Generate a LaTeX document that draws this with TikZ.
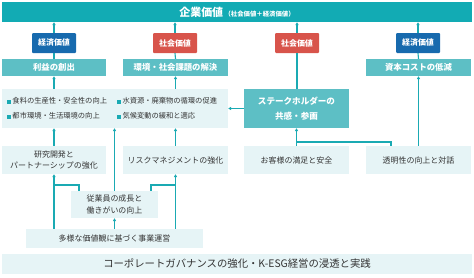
\documentclass[tikz,border=0pt]{standalone}
\usepackage{fontspec}
\setmainfont{Noto Sans CJK JP}
\usetikzlibrary{arrows.meta}
\definecolor{bannerteal}{HTML}{12ABB4}
\definecolor{midteal}{HTML}{5DBFC5}
\definecolor{lightbg}{HTML}{E6F4F6}
\definecolor{badgeblue}{HTML}{176AAE}
\definecolor{badgered}{HTML}{D8544B}
\definecolor{linecol}{HTML}{1AAAB3}
\definecolor{txt}{HTML}{333333}
\tikzset{
  base/.style={inner sep=0pt, align=center, font=\fontsize{8}{11.5}\selectfont},
  badge/.style={base, minimum width=44bp, minimum height=20bp, text=white, font=\fontsize{8}{9}\selectfont\bfseries, rounded corners=1bp},
  midbox/.style={base, fill=midteal, text=white, font=\fontsize{8.4}{10}\selectfont\bfseries},
  lightbox/.style={base, fill=lightbg, text=txt},
  conn/.style={draw=linecol, line width=1.1bp},
  arr/.style={conn, -{Triangle[length=3bp,width=3.2bp]}},
  bul/.style={inner sep=0pt, anchor=west, text=txt, font=\fontsize{7.3}{9}\selectfont}
}
\newcommand{\sq}{{\color{linecol}\rule{3.8bp}{3.8bp}}\hspace{1.5bp}}
\begin{document}
\begin{tikzpicture}[x=1bp,y=-1bp]
\useasboundingbox (0,0) rectangle (474,277);
% top banner
\node[base, fill=bannerteal, text=white, minimum width=470bp, minimum height=20bp] (top) at (237,12)
  {{\fontsize{11}{12}\selectfont\bfseries 企業価値}\,{\fontsize{6.4}{7}\selectfont\bfseries （社会価値＋経済価値）}};
% badges
\node[badge, fill=badgeblue] (b1) at (54,43) {経済価値};
\node[badge, fill=badgered] (b2) at (175,43) {社会価値};
\node[badge, fill=badgered] (b3) at (297,43) {社会価値};
\node[badge, fill=badgeblue] (b4) at (418,43) {経済価値};
% top row boxes
\node[midbox, minimum width=104bp, minimum height=17bp] (r1) at (54,67.5) {利益の創出};
\node[midbox, minimum width=105bp, minimum height=17bp] (r2) at (175.5,67.5) {環境・社会課題の解決};
\node[midbox, minimum width=105bp, minimum height=17bp] (r4) at (418.5,67.5) {資本コストの低減};
% big bullet box
\node[lightbox, minimum width=226bp, minimum height=39bp] (big) at (115,108.5) {};
\node[bul] (t1) at (7,101) {\sq 食料の生産性・安全性の向上};
\node[bul] (t2) at (117,101) {\sq 水資源・廃棄物の循環の促進};
\node[bul] (t3) at (7,116) {\sq 都市環境・生活環境の向上};
\node[bul] (t4) at (117,116) {\sq 気候変動の緩和と適応};
% stakeholder
\node[midbox, minimum width=105bp, minimum height=39bp, font=\fontsize{8.6}{15.5}\selectfont\bfseries] (sh) at (296.5,108.5) {ステークホルダーの\\共感・参画};
% second row
\node[lightbox, minimum width=104bp, minimum height=28bp] (s1) at (54,160) {研究開発と\\パートナーシップの強化};
\node[lightbox, minimum width=105bp, minimum height=28bp] (s2) at (175.5,160) {リスクマネジメントの強化};
\node[lightbox, minimum width=105bp, minimum height=28bp] (s3) at (296.5,160) {お客様の満足と安全};
\node[lightbox, minimum width=105bp, minimum height=28bp] (s4) at (418.5,160) {透明性の向上と対話};
% third row
\node[lightbox, minimum width=87bp, minimum height=27bp] (emp) at (114.5,204.5) {従業員の成長と\\働きがいの向上};
\node[lightbox, minimum width=177bp, minimum height=19bp] (div) at (114.5,238.5) {多様な価値観に基づく事業運営};
% bottom banner
\node[lightbox, minimum width=470bp, minimum height=20bp, font=\fontsize{10.4}{12}\selectfont] (bot) at (237,264) {コーポレートガバナンスの強化・K-ESG経営の浸透と実践};
% connectors: badges
\foreach \b in {b1,b2,b3,b4} {
  \draw[arr] (\b.north) -- (\b.north |- top.south);
}
\draw[conn] (b1.south) -- (r1.north);
\draw[conn] (b2.south) -- (r2.north);
\draw[conn] (b4.south) -- (r4.north);
\draw[conn] (b3.south) -- (b3.south |- sh.north);
% big box to top row
\draw[arr] (r1.south |- big.north) -- (r1.south);
\draw[arr] (r2.south |- big.north) -- (r2.south);
% stakeholder to big box
\draw[arr] (sh.west) -- (big.east);
% second row to big box / stakeholder
\draw[arr] (s1.north) -- (s1.north |- big.south);
\draw[arr] (s2.north) -- (s2.north |- big.south);
\draw[arr] (emp.north) -- (emp.north |- big.south);
\draw[arr] (s3.north) -- (s3.north |- sh.south);
\coordinate (tpj) at (391,142);
\draw[conn] (tpj |- s4.north) -- (tpj) -- (tpj -| s3.north);
\draw[arr] (r4.south |- s4.north) -- (r4.south);
% third row
\draw[arr] (s1.south |- div.north) -- (s1.south);
\draw[arr] (s2.south |- div.north) -- (s2.south);
\draw[arr] (div.north -| emp.south) -- (emp.south);
\coordinate (ejl) at (79,185);
\coordinate (ejr) at (151,185);
\draw[conn] (ejl |- emp.north) -- (ejl) -- (ejl -| s1.south);
\draw[conn] (ejr |- emp.north) -- (ejr) -- (ejr -| s2.south);
\end{tikzpicture}
\end{document}
